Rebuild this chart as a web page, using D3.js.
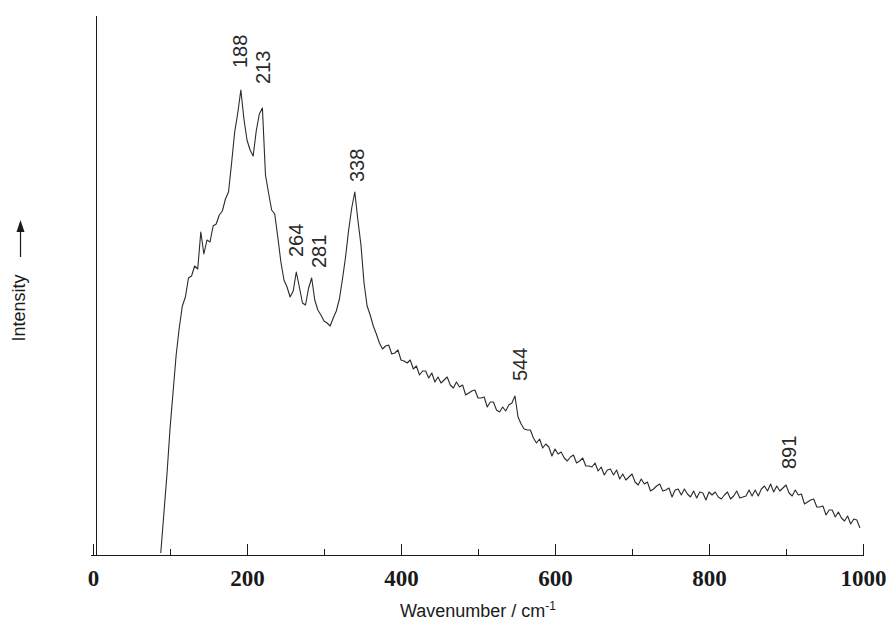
<!DOCTYPE html>
<meta charset="utf-8">
<head>
    <style>
        body {margin: 0; background: #fff;}
        .ticklabel {font-family: "Liberation Serif", "Times New Roman", serif; font-weight: bold; font-size: 23px; fill: #1a1a1a;}
        .peak {font-family: "Liberation Sans", Arial, sans-serif; font-size: 20px; fill: #2a2a2a;}
        .title {font-family: "Liberation Sans", Arial, sans-serif; font-size: 18px; fill: #1a1a1a;}
        .spectrum {fill: none; stroke: #2b2b2b; stroke-width: 1.1; stroke-linejoin: round;}
        .axis path, .axis line {stroke: #1a1a1a; stroke-width: 1.3; shape-rendering: crispEdges;}
    </style>
    <script src="https://d3js.org/d3.v7.min.js"></script>
</head>
<body>
<script>

    // Raman spectrum sampled every 4 cm-1 starting at 88 cm-1 (arbitrary intensity units)
    var startWn = 88,
        stepWn = 4;

    var intensity = [
        2, 41, 80, 126, 163, 200, 227, 249, 258, 277,        // 88
        279, 289, 286, 323, 301, 315, 313, 329, 331, 340,    // 128
        344, 356, 363, 392, 423, 442, 465, 436, 415, 405,    // 168
        399, 424, 441, 447, 380, 362, 345, 341, 318, 293,    // 208
        275, 268, 258, 264, 283, 268, 252, 250, 267, 277,    // 248
        255, 245, 240, 234, 232, 229, 237, 244, 256, 276,    // 288
        298, 325, 347, 363, 335, 310, 272, 249, 240, 229,    // 328
        221, 212, 206, 209, 210, 201, 202, 205, 195, 194,    // 368
        192, 195, 186, 189, 180, 184, 184, 177, 182, 173,    // 408
        178, 172, 175, 178, 170, 167, 173, 168, 170, 160,    // 448
        162, 164, 165, 157, 157, 158, 148, 153, 153, 145,    // 488
        143, 148, 144, 150, 152, 159, 138, 131, 126, 125,    // 528
        125, 117, 112, 116, 107, 111, 108, 99, 106, 101,     // 568
        103, 97, 94, 98, 100, 92, 94, 97, 89, 89,            // 608
        88, 92, 84, 88, 80, 85, 86, 80, 85, 76,              // 648
        81, 75, 78, 81, 73, 70, 76, 71, 73, 64,              // 688
        66, 69, 71, 64, 65, 67, 58, 65, 66, 60,              // 728
        66, 61, 58, 64, 57, 63, 62, 55, 63, 60,              // 768
        63, 58, 56, 60, 63, 56, 59, 64, 57, 58,              // 808
        59, 65, 59, 65, 59, 66, 69, 64, 71, 63,              // 848
        69, 64, 67, 70, 62, 59, 65, 60, 61, 51,              // 888
        53, 55, 56, 48, 48, 49, 40, 45, 45, 38,              // 928
        43, 37, 34, 39, 31, 36, 35, 27                       // 968
    ];

    var majorTicks = [0, 200, 400, 600, 800, 1000],
        minorTicks = [100, 300, 500, 700, 900],
        peakLabels = [188, 213, 264, 281, 338, 544, 891];

    var spectrum = intensity.map(function(v, i) {return [startWn + i * stepWn, v]});

    var width = 890, height = 634;

    var x = d3.scaleLinear()
        .domain([0, 1000])
        .range([93, 863]);

    var y = d3.scaleLinear()
        .domain([0, 540])
        .range([555, 15]);

    var svg = d3.select("body").append("svg")
        .attr("width", width)
        .attr("height", height)

    // x axis: long ticks every 200, short ticks in between, pointing up into the plot
    var xMajor = svg.append("g")
        .attr("class", "axis")
        .attr("transform", "translate(0,555)")
        .call(d3.axisBottom(x).tickValues(majorTicks).tickSizeInner(-11).tickSizeOuter(0).tickFormat(d3.format("d")))

    xMajor.select(".domain").attr("d", "M91,0.5H864")
    xMajor.selectAll("text")
        .attr("class", "ticklabel")
        .attr("y", 23)
        .attr("dy", "0.35em")
        .attr("fill", null)
        .attr("font-size", null)
        .attr("font-family", null)

    svg.append("g")
        .attr("class", "axis")
        .attr("transform", "translate(0,555)")
        .call(d3.axisBottom(x).tickValues(minorTicks).tickSizeInner(-6).tickSizeOuter(0).tickFormat(""))
        .select(".domain").remove()

    // y axis without ticks
    svg.append("g")
        .attr("class", "axis")
        .attr("transform", "translate(96,0)")
        .call(d3.axisLeft(y).tickValues([]).tickSizeOuter(0))

    var line = d3.line()
        .x(function(d) {return x(d[0])})
        .y(function(d) {return y(d[1])})

    svg.append("path")
        .datum(spectrum)
        .attr("class", "spectrum")
        .attr("d", line)

    // peak labels, placed above the local maximum of the spectrum
    var labelNudge = {188: [2, 22], 213: [6, 24], 264: [0, 15], 281: [10, 10], 338: [4, 10], 544: [8, 15], 891: [10, 15]};

    peakLabels.forEach(function(p) {
        var near = spectrum.filter(function(d) {return d[0] >= p - 12 && d[0] <= p + 20}),
            top = d3.max(near, function(d) {return d[1]}),
            nudge = labelNudge[p];
        svg.append("text")
            .attr("class", "peak")
            .attr("transform", "translate(" + (x(p) + nudge[0]) + "," + (y(top) - nudge[1]) + ") rotate(-90)")
            .attr("dy", "0.35em")
            .text(p)
    })

    // axis titles
    var xt = svg.append("text")
        .attr("class", "title")
        .attr("x", 478)
        .attr("y", 617)
        .attr("text-anchor", "middle")
    xt.append("tspan").text("Wavenumber / cm")
    xt.append("tspan").attr("font-size", "12px").attr("dy", -7).text("-1")

    svg.append("text")
        .attr("class", "title")
        .attr("transform", "translate(19,308) rotate(-90)")
        .attr("text-anchor", "middle")
        .attr("dy", "0.35em")
        .attr("font-size", "17px")
        .text("Intensity")

    svg.append("line")
        .attr("x1", 20.5).attr("x2", 20.5)
        .attr("y1", 257).attr("y2", 230)
        .attr("stroke", "#1a1a1a")
        .attr("stroke-width", 1.2)
    svg.append("path")
        .attr("d", "M20.5,220L16.5,232L24.5,232Z")
        .attr("fill", "#1a1a1a")

</script>
</body>
